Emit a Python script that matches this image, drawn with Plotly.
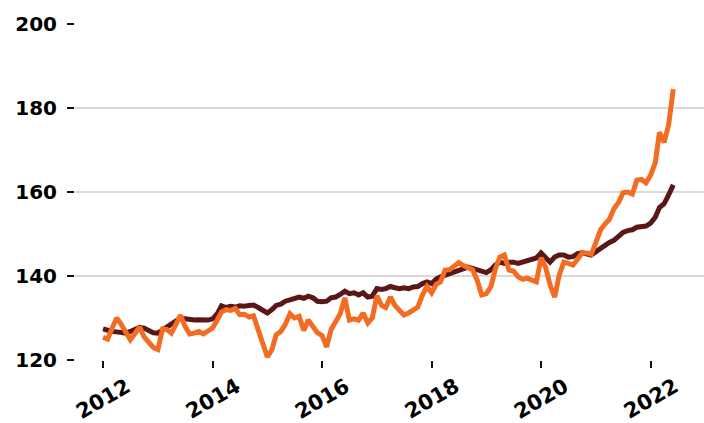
import pandas as pd
import plotly.graph_objects as go

# Monthly index values, January 2012 through June 2022
months = pd.date_range("2012-01-01", periods=126, freq="MS")

dark_series = [
    127.4, 127.0, 126.8, 126.7, 126.5, 126.4, 126.8, 127.2, 127.8, 127.6, 127.0, 126.5,
    126.4, 127.2, 127.8, 128.6, 129.3, 130.0, 129.8, 129.6, 129.5, 129.6, 129.4, 129.5,
    129.8, 131.0, 132.9, 132.5, 132.8, 132.6, 132.9, 132.8, 133.0, 133.1, 132.5, 132.0,
    131.2, 132.0, 133.0, 133.3, 134.0, 134.3, 134.8, 135.0, 134.7, 135.2, 134.8, 134.0,
    133.9, 134.0, 134.8, 135.0, 135.6, 136.4, 135.8, 136.0, 135.5, 136.0, 135.0, 135.2,
    137.0, 136.8, 137.0, 137.5, 137.2, 137.0, 137.2, 137.0, 137.4, 137.5, 138.2, 138.6,
    138.2, 139.3, 139.8, 140.2, 140.5, 141.0, 141.4, 142.0, 142.1, 141.8, 141.4, 141.0,
    140.8, 141.5, 142.6, 143.3, 143.0, 143.3, 143.3, 143.0, 143.3, 143.5, 143.8, 144.3,
    145.5, 144.5, 143.3, 144.5, 145.0, 145.0, 144.5, 144.6, 145.3, 145.5, 145.2, 145.0,
    145.8, 146.6, 147.2, 148.0, 148.5, 149.3, 150.4, 150.8, 151.0, 151.6, 151.7, 151.9,
    152.6, 154.0, 156.3, 157.2, 159.3, 161.7,
]

orange_series = [
    125.4, 125.0, 127.5, 130.0, 128.5, 126.8, 124.8, 126.3, 127.9, 125.5, 124.0, 123.0,
    122.5, 127.4, 127.3, 126.4, 128.5, 130.7, 128.0, 126.2, 126.4, 126.8, 126.2, 126.8,
    127.6, 129.5, 131.4, 132.0, 131.8, 132.3, 130.8, 130.9, 130.2, 130.5, 127.5, 124.0,
    120.7, 122.5, 126.0, 126.8, 128.5, 131.0, 130.0, 130.4, 127.0, 129.5, 128.0, 126.5,
    125.8, 123.1, 127.2, 129.0, 131.0, 134.8, 129.5, 129.8, 129.5, 131.2, 128.8, 130.0,
    135.3, 133.0, 132.5, 135.0, 133.0, 131.8, 130.7, 131.2, 131.8, 132.6, 135.5, 137.5,
    136.0, 138.0, 138.6, 141.4, 141.5, 142.5, 143.2, 142.5, 141.9, 141.5, 139.0, 135.5,
    135.8, 137.5, 141.5, 144.5, 145.0, 141.4, 141.2, 139.8, 139.2, 139.5, 139.0, 138.6,
    144.3, 142.0, 137.9, 135.0, 140.2, 143.3, 143.0, 142.6, 144.0, 145.5, 145.5, 145.2,
    148.0, 151.0, 152.3, 153.5, 156.0, 157.5, 159.8, 160.0, 159.5, 162.8, 163.0, 162.2,
    164.0, 167.0, 174.2, 171.8, 176.0, 184.5,
]

year_ticks = [2012, 2014, 2016, 2018, 2020, 2022]
y_ticks = [120, 140, 160, 180, 200]

DARK = "#5a1717"
ORANGE = "#f36c23"
FONT = "DejaVu Sans"

fig = go.Figure()
fig.add_trace(go.Scatter(x=months, y=dark_series, mode="lines",
                         line=dict(color=DARK, width=5), showlegend=False))
fig.add_trace(go.Scatter(x=months, y=orange_series, mode="lines",
                         line=dict(color=ORANGE, width=5), showlegend=False))

tick_dates = [pd.Timestamp(year=y, month=1, day=1) for y in year_ticks]

# Year labels centred under each tick and tilted 30 degrees
for d, y in zip(tick_dates, year_ticks):
    fig.add_annotation(x=d, y=-0.116, xref="x", yref="paper", text=str(y),
                       showarrow=False, textangle=-30, xanchor="center", yanchor="middle",
                       font=dict(family=FONT, size=21, color="black", weight="bold"))

fig.update_xaxes(
    range=["2011-06-28", "2022-12-23"],
    tickvals=tick_dates, showticklabels=False,
    ticks="outside", ticklen=7, tickwidth=2, tickcolor="#111111",
    showgrid=False, zeroline=False, showline=False,
)
fig.update_yaxes(
    range=[120, 200], tickvals=y_ticks,
    ticks="outside", ticklen=7, tickwidth=2, tickcolor="#111111",
    ticklabelstandoff=6,
    tickfont=dict(family=FONT, size=20, color="black", weight="bold"),
    showgrid=True, gridcolor="#d9d9d9", gridwidth=1.5,
    zeroline=False, showline=False,
)

fig.update_layout(
    width=704, height=423,
    margin=dict(l=75, r=0, t=24, b=63),
    paper_bgcolor="white", plot_bgcolor="white",
)

fig.write_html("out.html")
